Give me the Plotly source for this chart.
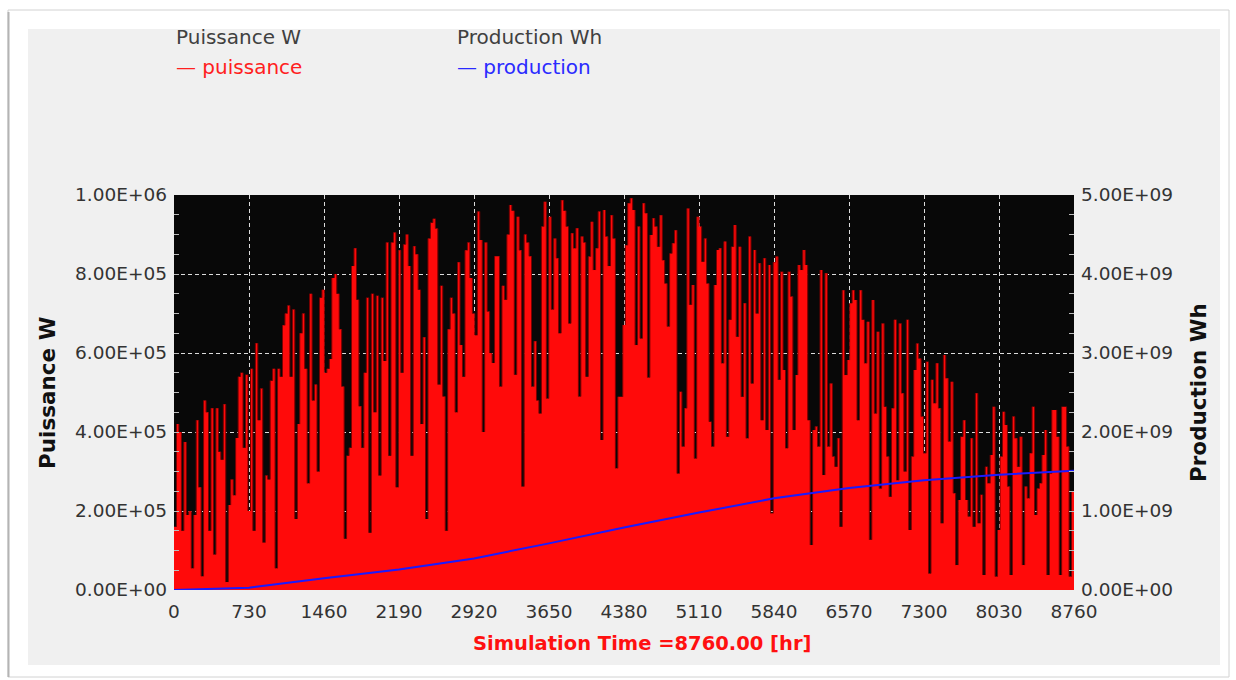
import plotly.graph_objects as go

# ---------------- data ----------------
# daily peak power (kW), one value per day of the year
daily_peak_kw = [
    # days 1-61
    160, 420, 400, 150, 375, 190, 200, 55, 190, 430, 260, 35, 480, 450, 150, 460, 90, 460, 350, 330,
    470, 20, 215, 280, 240, 385, 540, 550, 360, 545, 200, 560, 150, 625, 430, 510, 120, 290, 280, 530,
    560, 55, 560, 540, 670, 700, 720, 540, 710, 180, 420, 650, 700, 560, 270, 750, 480, 520, 300, 740,
    760,
    # days 62-122
    550, 560, 585, 790, 800, 750, 660, 515, 130, 340, 360, 820, 865, 735, 465, 360, 550, 740, 145, 750,
    450, 745, 290, 740, 580, 880, 340, 880, 905, 260, 860, 550, 875, 900, 820, 340, 870, 850, 760, 420,
    640, 180, 890, 930, 940, 915, 520, 770, 490, 150, 660, 740, 700, 450, 830, 620, 540, 860, 880, 790,
    700,
    # days 123-183
    645, 958, 886, 400, 880, 705, 600, 575, 845, 845, 515, 770, 735, 900, 975, 960, 545, 945, 860, 262,
    900, 880, 845, 515, 630, 480, 447, 920, 983, 485, 945, 710, 890, 840, 650, 987, 960, 920, 675, 903,
    865, 916, 490, 895, 880, 540, 844, 932, 810, 865, 958, 380, 962, 895, 820, 949, 890, 308, 489, 489,
    671,
    # days 184-244
    873, 979, 992, 962, 620, 920, 637, 979, 954, 538, 899, 941, 920, 869, 949, 835, 776, 667, 852, 878,
    911, 295, 502, 363, 460, 966, 722, 772, 333, 945, 920, 831, 890, 776, 426, 363, 772, 861, 865, 574,
    882, 388, 684, 869, 924, 641, 869, 489, 726, 384, 895, 523, 861, 700, 827, 430, 840, 405, 823, 194,
    830,
    # days 245-305
    844, 532, 806, 557, 359, 806, 743, 405, 544, 823, 810, 861, 823, 430, 114, 405, 414, 363, 810, 291,
    802, 363, 523, 338, 312, 384, 160, 759, 544, 582, 726, 759, 734, 430, 759, 684, 574, 679, 127, 734,
    447, 654, 257, 675, 464, 338, 236, 460, 684, 278, 675, 498, 300, 684, 152, 338, 557, 624, 586, 439,
    346,
    # days 306-365
    578, 42, 532, 473, 574, 460, 169, 595, 536, 376, 527, 245, 63, 228, 388, 430, 228, 186, 384, 160,
    498, 169, 241, 38, 312, 270, 342, 464, 34, 152, 338, 451, 418, 262, 38, 439, 384, 312, 388, 63,
    262, 232, 346, 464, 190, 257, 270, 342, 405, 38, 295, 456, 456, 388, 38, 464, 464, 363, 34, 249,
]
day_start_hour = list(range(0, 8760, 24))

# cumulative production (GWh) at monthly marks
month_hours = [0, 730, 1460, 2190, 2920, 3650, 4380, 5110, 5840, 6570, 7300, 8030, 8760]
production_gwh = [0.0, 0.03, 0.15, 0.26, 0.40, 0.59, 0.79, 0.98, 1.16, 1.29, 1.39, 1.46, 1.51]

x_tick_vals = [0, 730, 1460, 2190, 2920, 3650, 4380, 5110, 5840, 6570, 7300, 8030, 8760]
y_tick_vals = [0, 200000, 400000, 600000, 800000, 1000000]
y_tick_text = ["0.00E+00", "2.00E+05", "4.00E+05", "6.00E+05", "8.00E+05", "1.00E+06"]
y2_tick_vals = [0, 1e9, 2e9, 3e9, 4e9, 5e9]
y2_tick_text = ["0.00E+00", "1.00E+09", "2.00E+09", "3.00E+09", "4.00E+09", "5.00E+09"]

# ---------------- geometry helpers ----------------
W, H = 1236, 680
PL, PR, PT, PB = 174, 1074, 195, 590


def px(x):
    return (x - PL) / (PR - PL)


def py(y):
    return (PB - y) / (PB - PT)


power_w = [v * 1000 for v in daily_peak_kw]
step_x = day_start_hour + [8760]
step_y = power_w + [power_w[-1]]

seg_x, seg_y = [], []
for i in range(1, len(power_w)):
    seg_x += [day_start_hour[i], day_start_hour[i], None]
    seg_y += [power_w[i - 1], power_w[i], None]

prod_wh = [v * 1e9 for v in production_gwh]

FONT = "DejaVu Sans"
TICKC = "#333333"

fig = go.Figure()
fig.add_trace(go.Scatter(
    x=step_x, y=step_y, mode="lines",
    line=dict(shape="hv", width=0, color="#ff0a0a"),
    fill="tozeroy", fillcolor="#ff0a0a",
    hoverinfo="skip", showlegend=False, name="puissance"))
fig.add_trace(go.Scatter(
    x=seg_x, y=seg_y, mode="lines",
    line=dict(color="#7a0000", width=1),
    hoverinfo="skip", showlegend=False))
fig.add_trace(go.Scatter(
    x=month_hours, y=prod_wh, mode="lines", yaxis="y2",
    line=dict(color="#1a1aff", width=2),
    showlegend=False, name="production"))

grid = dict(showgrid=True, gridcolor="#dcdcdc", gridwidth=1, griddash="4px,3px")

fig.update_layout(
    width=W, height=H, autosize=False,
    margin=dict(l=PL, r=W - PR, t=PT, b=H - PB, pad=0),
    paper_bgcolor="#f0f0f0", plot_bgcolor="#080808",
    xaxis=dict(range=[0, 8760], tickmode="array", tickvals=x_tick_vals,
               ticks="", zeroline=False, showline=False,
               tickfont=dict(family=FONT, size=18.5, color=TICKC),
               ticklabelstandoff=8, **grid),
    yaxis=dict(range=[0, 1000000], tickmode="array", tickvals=y_tick_vals, ticktext=y_tick_text,
               ticks="inside", ticklen=5, tickcolor="#bbbbbb", zeroline=False, showline=False,
               minor=dict(tickvals=list(range(0, 1000001, 50000)), ticks="inside", ticklen=5,
                          tickcolor="#bbbbbb", showgrid=False),
               tickfont=dict(family=FONT, size=18.5, color=TICKC),
               ticklabelstandoff=6, **grid),
    yaxis2=dict(range=[0, 5e9], overlaying="y", side="right", tickmode="array",
                tickvals=y2_tick_vals, ticktext=y2_tick_text, showgrid=False,
                ticks="inside", ticklen=5, tickcolor="#bbbbbb", zeroline=False, showline=False,
                minor=dict(tickvals=[i * 250000000 for i in range(21)], ticks="inside", ticklen=5,
                           tickcolor="#bbbbbb", showgrid=False),
                tickfont=dict(family=FONT, size=18.5, color=TICKC),
                ticklabelstandoff=6),
    showlegend=False,
)

# white outer frame around the grey panel
white = dict(type="rect", xref="paper", yref="paper", fillcolor="white", line=dict(width=0), layer="below")
shapes = [
    dict(white, x0=px(0), x1=px(W), y0=py(0), y1=py(29)),
    dict(white, x0=px(0), x1=px(W), y0=py(665), y1=py(H)),
    dict(white, x0=px(0), x1=px(28), y0=py(29), y1=py(665)),
    dict(white, x0=px(1220), x1=px(W), y0=py(29), y1=py(665)),
    dict(type="rect", xref="paper", yref="paper", x0=px(8), x1=px(1229), y0=py(10), y1=py(677),
         line=dict(color="#d2d2d2", width=1), fillcolor="rgba(0,0,0,0)", layer="below"),
    dict(type="line", xref="paper", yref="paper", x0=px(8.5), x1=px(8.5), y0=py(12), y1=py(677),
         line=dict(color="#b4b4b4", width=2), layer="below"),
]
fig.update_layout(shapes=shapes)

ann = [
    dict(text="Puissance W", x=px(174), y=py(37), font=dict(family=FONT, size=20, color="#404040")),
    dict(text="— puissance", x=px(174), y=py(67), font=dict(family=FONT, size=20, color="#ff2020")),
    dict(text="Production Wh", x=px(455), y=py(37), font=dict(family=FONT, size=20, color="#404040")),
    dict(text="— production", x=px(455), y=py(67), font=dict(family=FONT, size=20, color="#2a2aff")),
]
for a in ann:
    fig.add_annotation(xref="paper", yref="paper", xanchor="left", yanchor="middle",
                       showarrow=False, **a)

fig.add_annotation(text="<b>Simulation Time =8760.00 [hr]</b>", xref="paper", yref="paper",
                   x=px(642), y=py(643), xanchor="center", yanchor="middle", showarrow=False,
                   font=dict(family=FONT, size=19.5, color="#ff1010"))
fig.add_annotation(text="<b>Puissance W</b>", xref="paper", yref="paper", textangle=-90,
                   x=px(47), y=py(393), xanchor="center", yanchor="middle", showarrow=False,
                   font=dict(family=FONT, size=21.5, color="#111111"))
fig.add_annotation(text="<b>Production Wh</b>", xref="paper", yref="paper", textangle=-90,
                   x=px(1198), y=py(393), xanchor="center", yanchor="middle", showarrow=False,
                   font=dict(family=FONT, size=21.5, color="#111111"))

fig.write_html("out.html", config={"displayModeBar": False},
               post_script="document.body.style.margin='0';document.body.style.overflow='hidden';")
